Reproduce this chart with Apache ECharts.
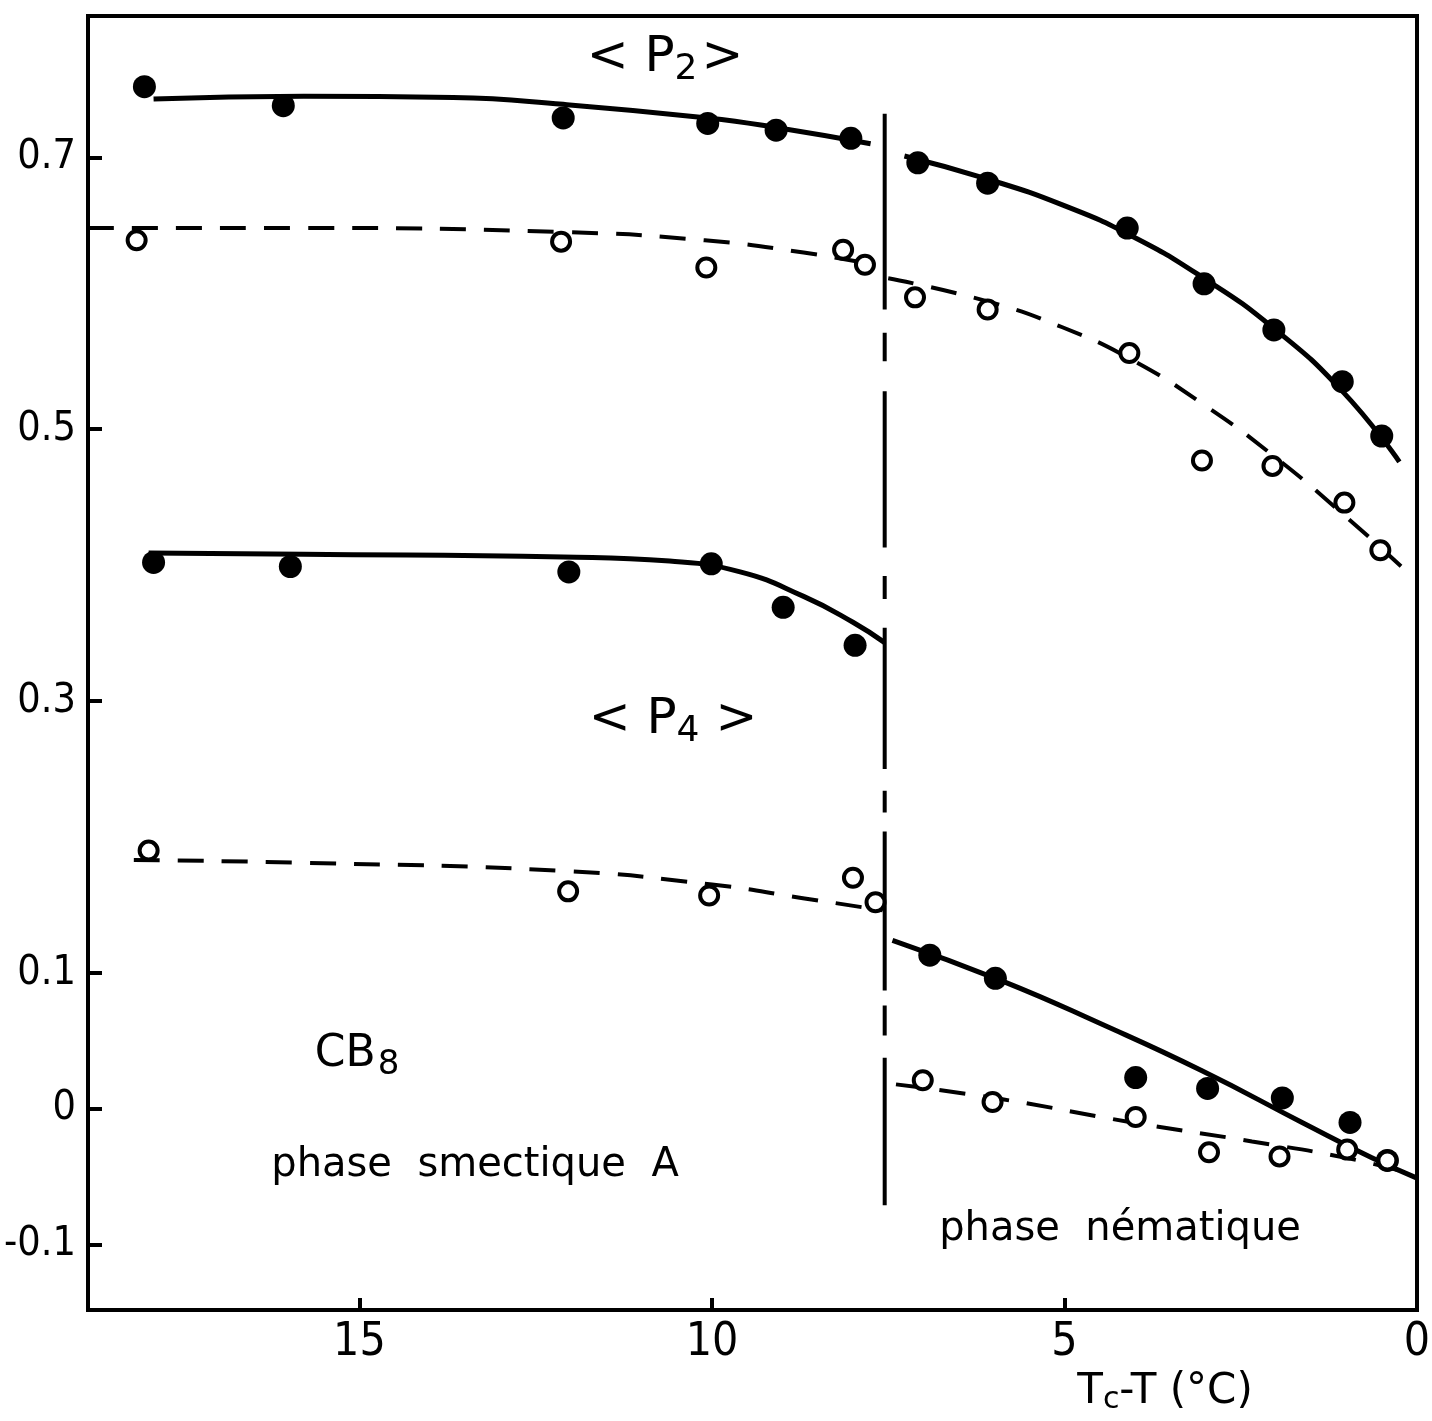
<!DOCTYPE html>
<html>
<head>
<meta charset="utf-8">
<script src="https://cdn.jsdelivr.net/npm/echarts@6/dist/echarts.min.js"></script>
<style>
  html, body { margin: 0; padding: 0; background: #fff; }
  #chart { width: 1432px; height: 1421px; }
</style>
</head>
<body>
<div id="chart"></div>
<script>
// axes
const xTicks = [0, 5, 10, 15];
const yTicks = [-0.1, 0, 0.1, 0.3, 0.5, 0.7];
const tcLine = 7.55; // phase transition, Tc-T

// <P2> measured points [Tc-T, value]
const p2SmecFilled = [[18.05, 0.752], [16.08, 0.738], [12.11, 0.729], [10.06, 0.725], [9.09, 0.720], [8.03, 0.714]];
const p2NemFilled = [[7.08, 0.696], [6.09, 0.681], [4.11, 0.648], [3.02, 0.607], [2.03, 0.573], [1.06, 0.535], [0.50, 0.495]];
const p2SmecOpen = [[18.16, 0.639], [12.14, 0.638], [10.08, 0.619], [8.14, 0.632], [7.83, 0.621]];
const p2NemOpen = [[7.12, 0.597], [6.09, 0.588], [4.08, 0.556], [3.05, 0.477], [2.05, 0.473], [1.03, 0.446], [0.52, 0.411]];

// <P4> measured points
const p4SmecFilled = [[17.92, 0.402], [15.98, 0.399], [12.03, 0.395], [10.01, 0.401], [8.99, 0.369], [7.97, 0.341]];
const p4NemFilled = [[6.91, 0.113], [5.98, 0.096], [3.99, 0.023], [2.97, 0.015], [1.91, 0.008], [0.95, -0.010], [0.42, -0.038]];
const p4SmecOpen = [[17.99, 0.190], [12.04, 0.160], [10.04, 0.157], [8.00, 0.170], [7.68, 0.152]];
const p4NemOpen = [[7.01, 0.021], [6.02, 0.005], [3.99, -0.006], [2.95, -0.032], [1.95, -0.035], [0.99, -0.030], [0.42, -0.038]];

// hand drawn curves
const p2SmecCurve = [[17.92, 0.743], [15.79, 0.745], [13.67, 0.744], [12.11, 0.739], [10.06, 0.729], [9.09, 0.722], [7.75, 0.710]];
const p2NemCurve = [[7.27, 0.701], [6.09, 0.684], [5.03, 0.665], [4.04, 0.642], [3.05, 0.612], [2.05, 0.575], [1.06, 0.528], [0.25, 0.476]];
const p2SmecDash = [[18.85, 0.648], [15.8, 0.648], [12.1, 0.645], [10.1, 0.639], [8.7, 0.630], [7.7, 0.621]];
const p2NemDash = [[7.5, 0.611], [6.09, 0.594], [5.03, 0.575], [4.04, 0.551], [3.05, 0.519], [2.05, 0.481], [1.06, 0.438], [0.14, 0.395]];
const p4SmecCurve = [[17.99, 0.409], [15.79, 0.408], [12.11, 0.406], [10.6, 0.403], [9.6, 0.395], [8.7, 0.377], [8.0, 0.358], [7.55, 0.343]];
const p4SmecDash = [[18.2, 0.183], [15.79, 0.181], [12.11, 0.175], [10.0, 0.165], [8.71, 0.155], [7.58, 0.146]];
const p4NemCurve = [[7.44, 0.124], [5.88, 0.094], [4.46, 0.062], [3.05, 0.028], [1.63, -0.010], [0.64, -0.036], [0.0, -0.051]];
const p4NemDash = [[7.39, 0.018], [5.88, 0.007], [4.04, -0.010], [2.34, -0.024], [0.92, -0.037], [0.0, -0.049]];

// vertical transition line: drawn pieces [from, to] in value units
const tcPieces = [[0.732, 0.588], [0.571, 0.550], [0.528, 0.413], [0.392, 0.375], [0.354, 0.250],
  [0.234, 0.218], [0.204, 0.087], [0.076, 0.054], [0.0375, -0.071]];

const tickFont = '"DejaVu Sans Condensed", "Liberation Sans Narrow", "DejaVu Sans", sans-serif';
const textFont = '"DejaVu Sans", sans-serif';

const tcData = [];
tcPieces.forEach(p => {
  tcData.push([tcLine, p[0]], [tcLine, p[1]], [tcLine, null]);
});

const curve = (data, dashed) => ({
  type: 'line', data: data, smooth: 0.5, showSymbol: false, silent: true, z: 2,
  lineStyle: dashed
    ? { color: '#000', width: 4, type: [26, 18] }
    : { color: '#000', width: 5 }
});
const dots = (data, open) => ({
  type: 'scatter', data: data, symbol: 'circle', symbolSize: open ? 18 : 23, z: 3,
  itemStyle: open
    ? { color: '#fff', borderColor: '#000', borderWidth: 4, opacity: 1 }
    : { color: '#000', opacity: 1 }
});

const chart = echarts.init(document.getElementById('chart'));
chart.setOption({
  backgroundColor: '#fff',
  animation: false,
  grid: {
    left: 88, right: 15, top: 16, bottom: 111, outerBoundsMode: 'none', containLabel: false,
    show: true, borderColor: '#000', borderWidth: 4
  },
  xAxis: {
    type: 'value', min: 0, max: 18.85, inverse: true,
    axisLine: { onZero: false, lineStyle: { color: '#000', width: 4 } },
    axisTick: { inside: true, length: 12, lineStyle: { color: '#000', width: 4 }, customValues: xTicks },
    axisLabel: { customValues: xTicks, color: '#000', fontSize: 46, fontFamily: tickFont, margin: 10 },
    splitLine: { show: false }
  },
  yAxis: {
    type: 'value', min: -0.148, max: 0.804,
    axisLine: { onZero: false, lineStyle: { color: '#000', width: 4 } },
    axisTick: { inside: true, length: 14, lineStyle: { color: '#000', width: 4 }, customValues: yTicks },
    axisLabel: {
      customValues: yTicks, color: '#000', fontSize: 41, fontFamily: tickFont, margin: 12,
      formatter: v => (v === 0 ? '0' : v.toFixed(1))
    },
    splitLine: { show: false }
  },
  series: [
    curve(p2SmecCurve), curve(p2NemCurve), curve(p2SmecDash, true), curve(p2NemDash, true),
    curve(p4SmecCurve), curve(p4NemCurve), curve(p4SmecDash, true), curve(p4NemDash, true),
    {
      type: 'line', data: tcData, showSymbol: false, silent: true, connectNulls: false, z: 2,
      lineStyle: { color: '#000', width: 4 }
    },
    dots(p2SmecFilled), dots(p2NemFilled), dots(p2SmecOpen, true), dots(p2NemOpen, true),
    dots(p4SmecFilled), dots(p4NemFilled), dots(p4SmecOpen, true), dots(p4NemOpen, true)
  ],
  graphic: [
    {
      type: 'text', x: 665, y: 58,
      style: {
        text: '{a|< P}{s|2}{a|>}', align: 'center', verticalAlign: 'middle',
        rich: {
          a: { fontSize: 50, fontFamily: textFont, fill: '#000' },
          s: { fontSize: 36, fontFamily: textFont, fill: '#000', padding: [24, 4, 0, 0] }
        }
      }
    },
    {
      type: 'text', x: 673, y: 720,
      style: {
        text: '{a|< P}{s|4}{a| >}', align: 'center', verticalAlign: 'middle',
        rich: {
          a: { fontSize: 50, fontFamily: textFont, fill: '#000' },
          s: { fontSize: 36, fontFamily: textFont, fill: '#000', padding: [24, 0, 0, 0] }
        }
      }
    },
    {
      type: 'text', x: 357, y: 1055,
      style: {
        text: '{a|CB}{s|8}', align: 'center', verticalAlign: 'middle',
        rich: {
          a: { fontSize: 44, fontFamily: textFont, fill: '#000' },
          s: { fontSize: 34, fontFamily: textFont, fill: '#000', padding: [20, 0, 0, 2] }
        }
      }
    },
    {
      type: 'text', x: 475, y: 1166,
      style: { text: 'phase  smectique  A', align: 'center', verticalAlign: 'middle', fontSize: 40, fontFamily: textFont, fill: '#000' }
    },
    {
      type: 'text', x: 1120, y: 1230,
      style: { text: 'phase  nématique', align: 'center', verticalAlign: 'middle', fontSize: 40, fontFamily: textFont, fill: '#000' }
    },
    {
      type: 'text', x: 1165, y: 1392,
      style: {
        text: '{a|T}{s|c}{a|-T (°C)}', align: 'center', verticalAlign: 'middle',
        rich: {
          a: { fontSize: 42, fontFamily: textFont, fill: '#000' },
          s: { fontSize: 30, fontFamily: textFont, fill: '#000', padding: [16, 0, 0, 0] }
        }
      }
    }
  ]
});
</script>
</body>
</html>
